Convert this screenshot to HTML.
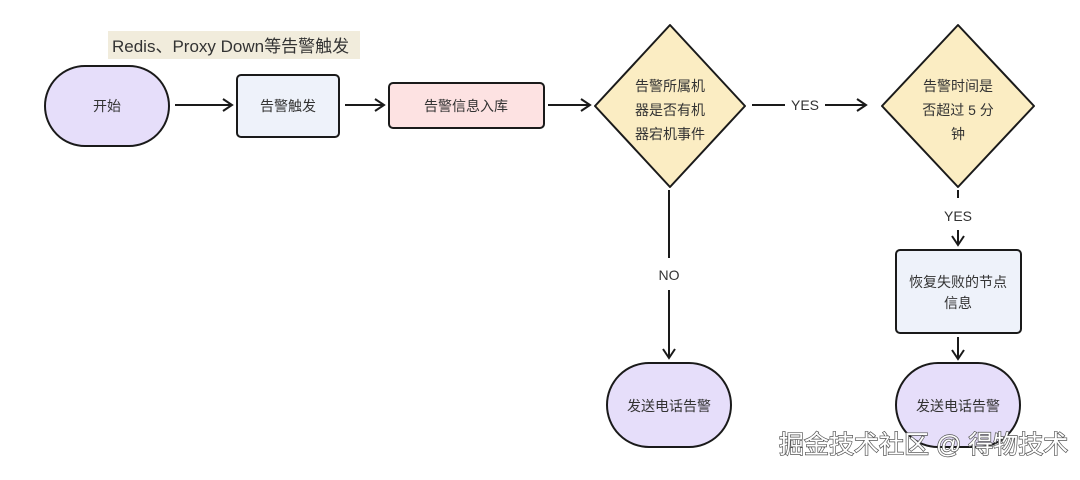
<!DOCTYPE html>
<html><head><meta charset="utf-8"><style>
html,body{margin:0;padding:0;background:#fff;}
svg text{font-family:"Liberation Sans","Noto Sans CJK SC",sans-serif;fill:#333;}
</style></head><body>
<svg width="1080" height="475" viewBox="0 0 1080 475" xmlns="http://www.w3.org/2000/svg">
<defs><marker id="a" markerWidth="14" markerHeight="14" refX="11" refY="7" orient="auto" markerUnits="userSpaceOnUse"><path d="M2,1 L11,7 L2,13" fill="none" stroke="#1a1a1a" stroke-width="2"/></marker></defs>
<rect x="108" y="31" width="252" height="28" fill="#f1ecdc"/>
<text x="112" y="52" font-size="17" fill="#333">Redis、Proxy Down等告警触发</text>
<g stroke="#1a1a1a" stroke-width="2">
<rect x="45" y="66" width="124" height="80" rx="40" fill="#e6defa"/>
<rect x="237" y="75" width="102" height="62" rx="4" fill="#eef2fa"/>
<rect x="389" y="83" width="155" height="45" rx="4" fill="#fde2e2"/>
<path d="M670,25 L745,106 L670,187 L595,106 Z" fill="#fbedc3" stroke-linejoin="round"/>
<path d="M958,25 L1034,106 L958,187 L882,106 Z" fill="#fbedc3" stroke-linejoin="round"/>
<rect x="896" y="250" width="125" height="83" rx="4" fill="#eef2fa"/>
<rect x="607" y="363" width="124" height="84" rx="42" fill="#e6defa"/>
<rect x="896" y="363" width="124" height="84" rx="42" fill="#e6defa"/>
<line x1="175" y1="105" x2="232" y2="105" marker-end="url(#a)"/>
<line x1="345" y1="105" x2="384" y2="105" marker-end="url(#a)"/>
<line x1="548" y1="105" x2="590" y2="105" marker-end="url(#a)"/>
<line x1="752" y1="105" x2="785" y2="105"/>
<line x1="825" y1="105" x2="866" y2="105" marker-end="url(#a)"/>
<line x1="669" y1="190" x2="669" y2="258"/>
<line x1="669" y1="290" x2="669" y2="358" marker-end="url(#a)"/>
<line x1="958" y1="190" x2="958" y2="198"/>
<line x1="958" y1="230" x2="958" y2="245" marker-end="url(#a)"/>
<line x1="958" y1="337" x2="958" y2="359" marker-end="url(#a)"/>
</g>
<g font-size="14" text-anchor="middle">
<text x="107" y="111">开始</text>
<text x="288" y="111">告警触发</text>
<text x="466" y="111">告警信息入库</text>
<text x="670" y="91">告警所属机</text>
<text x="670" y="115">器是否有机</text>
<text x="670" y="139">器宕机事件</text>
<text x="958" y="91">告警时间是</text>
<text x="958" y="115">否超过 5 分</text>
<text x="958" y="139">钟</text>
<text x="805" y="110">YES</text>
<text x="669" y="280">NO</text>
<text x="958" y="221">YES</text>
<text x="958" y="287">恢复失败的节点</text>
<text x="958" y="308">信息</text>
<text x="669" y="411">发送电话告警</text>
<text x="958" y="411">发送电话告警</text>
</g>
<text x="779" y="453" font-size="25" style="fill:#fff;stroke:#555;stroke-width:1.4;paint-order:stroke">掘金技术社区 @ 得物技术</text>
</svg>
</body></html>
